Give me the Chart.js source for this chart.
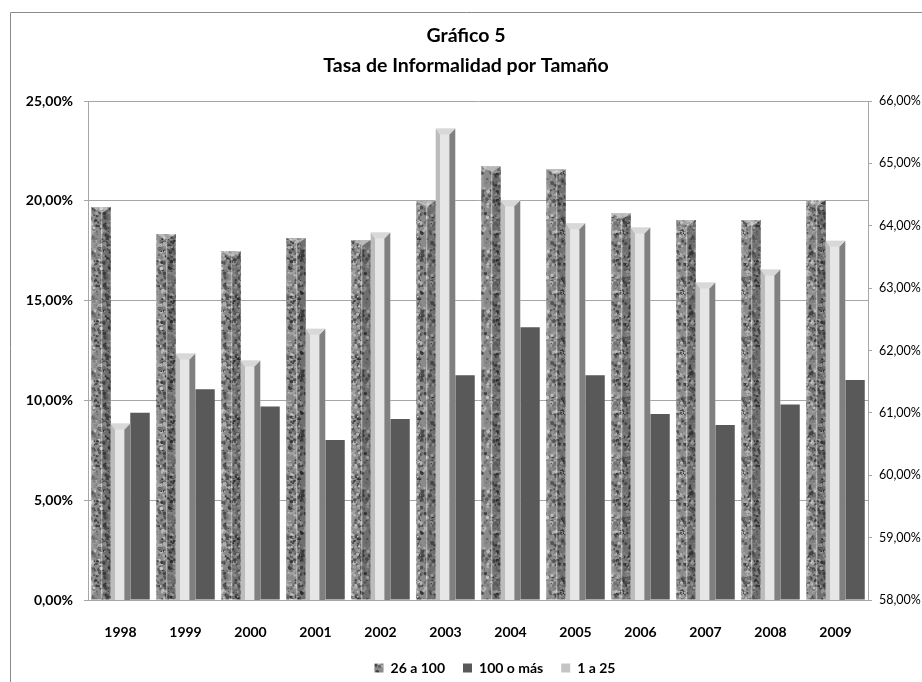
<!DOCTYPE html>
<html lang="es">
<head>
<meta charset="utf-8">
<title>Gráfico 5 - Tasa de Informalidad por Tamaño</title>
<script src="https://cdn.jsdelivr.net/npm/chart.js@4/dist/chart.umd.min.js"></script>
<style>
  html, body { margin: 0; padding: 0; background: #ffffff; }
  #wrap { position: relative; width: 922px; height: 682px; }
</style>
</head>
<body>
<div id="wrap"><canvas id="chart" width="922" height="682"></canvas></div>
<script>
// Años de la serie
const years = ['1998', '1999', '2000', '2001', '2002', '2003', '2004', '2005', '2006', '2007', '2008', '2009'];

// Tasa de informalidad (%) por tamaño de empresa
const firms26to100 = [19.69, 18.34, 17.47, 18.14, 18.04, 19.99, 21.73, 21.58, 19.37, 19.04, 19.04, 20.04];
const firms100plus = [9.38, 10.56, 9.69, 8.02, 9.07, 11.26, 13.66, 11.26, 9.32, 8.77, 9.79, 11.02];
const firms1to25   = [60.83, 61.95, 61.84, 62.35, 63.89, 65.56, 64.41, 64.04, 63.97, 63.09, 63.30, 63.76];

// Nombres de las series y orden de la leyenda
const seriesNames = ['26 a 100', '1 a 25', '100 o más'];
const legendOrder = ['26 a 100', '100 o más', '1 a 25'];

const FONT = 'Lato, "Open Sans", "Noto Sans", sans-serif';

// Textura granito para la serie "26 a 100"
function granitePattern() {
  const size = 60;
  const raw = document.createElement('canvas');
  raw.width = size; raw.height = size;
  const g = raw.getContext('2d');
  g.fillStyle = '#8b8b8b';
  g.fillRect(0, 0, size, size);
  let s = 24680;
  const next = () => (s = (s * 16807) % 2147483647) / 2147483647;
  for (let i = 0; i < 650; i++) {
    const v = Math.floor(50 + next() * 150);
    g.fillStyle = 'rgb(' + v + ',' + v + ',' + v + ')';
    g.beginPath();
    g.arc(next() * size, next() * size, 0.6 + next() * 1.4, 0, Math.PI * 2);
    g.fill();
  }
  const c = document.createElement('canvas');
  c.width = size; c.height = size;
  const g2 = c.getContext('2d');
  g2.filter = 'blur(0.4px)';
  g2.drawImage(raw, 0, 0);
  return g2.createPattern(c, 'repeat');
}
const granite = granitePattern();

// Relieve de las barras (caras laterales y biseles)
const bevelPlugin = {
  id: 'bevel',
  afterDatasetsDraw(chart) {
    const ctx = chart.ctx;
    const area = chart.chartArea;
    ctx.save();
    ctx.beginPath();
    ctx.rect(area.left, area.top - 2, area.right - area.left, area.bottom - area.top + 2);
    ctx.clip();
    chart.data.datasets.forEach((ds, di) => {
      const meta = chart.getDatasetMeta(di);
      if (meta.hidden) return;
      meta.data.forEach(bar => {
        const p = bar.getProps(['x', 'y', 'base', 'width'], true);
        const L = p.x - p.width / 2, R = p.x + p.width / 2, T = p.y, B = p.base, w = p.width;
        const h = Math.min(6, (B - T) / 2);
        const poly = (pts, fill) => {
          ctx.beginPath();
          ctx.moveTo(pts[0][0], pts[0][1]);
          for (let i = 1; i < pts.length; i++) ctx.lineTo(pts[i][0], pts[i][1]);
          ctx.closePath();
          ctx.fillStyle = fill;
          ctx.fill();
        };
        if (ds.label === '1 a 25') {
          const lw = w * 0.22, rw = w * 0.3;
          poly([[L, T], [L + lw, T + h], [L + lw, B - h], [L, B]], '#bcbcbc');
          poly([[R, T], [R - rw, T + h], [R - rw, B - h], [R, B]], '#808080');
          poly([[L, T], [R, T], [R - rw, T + h], [L + lw, T + h]], '#d8d8d8');
          poly([[L, B], [R, B], [R - rw, B - h], [L + lw, B - h]], '#909090');
        } else if (ds.label === '26 a 100') {
          const mid = L + w * 0.55;
          poly([[mid, T + h], [R, T], [R, B], [mid, B]], 'rgba(0,0,0,0.2)');
          poly([[L, T], [L + w * 0.12, T + h], [L + w * 0.12, B], [L, B]], 'rgba(255,255,255,0.12)');
          ctx.fillStyle = 'rgba(255,255,255,0.35)';
          ctx.fillRect(mid - 1, T + h, 1.5, B - T - h);
          poly([[L, T], [R, T], [mid, T + h]], 'rgba(225,225,225,0.55)');
        }
      });
    });
    ctx.restore();
  }
};

// Marco exterior del gráfico y desplazamiento de la leyenda
const framePlugin = {
  id: 'frame',
  afterLayout(chart) {
    if (chart.legend) {
      chart.legend.left += 29;
      chart.legend.right += 29;
    }
  },
  beforeDraw(chart) {
    const ctx = chart.ctx;
    ctx.save();
    ctx.strokeStyle = '#8a8a8a';
    ctx.lineWidth = 1;
    ctx.beginPath();
    ctx.moveTo(10.5, 700);
    ctx.lineTo(10.5, 12.5);
    ctx.lineTo(940, 12.5);
    ctx.stroke();
    ctx.restore();
  }
};

const pct = v => v.toFixed(2).replace('.', ',') + '%';

const styles = {
  '26 a 100':  { backgroundColor: granite, yAxisID: 'y',  data: firms26to100 },
  '1 a 25':    { backgroundColor: '#e6e6e6', yAxisID: 'y1', data: firms1to25 },
  '100 o más': { backgroundColor: '#595959', yAxisID: 'y',  data: firms100plus }
};

new Chart(document.getElementById('chart'), {
  type: 'bar',
  data: {
    labels: years,
    datasets: seriesNames.map(name => ({
      label: name,
      data: styles[name].data,
      yAxisID: styles[name].yAxisID,
      backgroundColor: styles[name].backgroundColor,
      borderWidth: 0,
      categoryPercentage: 0.9,
      barPercentage: 1.0
    }))
  },
  options: {
    responsive: false,
    animation: false,
    layout: { padding: { left: 10, right: 0, top: 12, bottom: -3 } },
    plugins: {
      title: {
        display: true,
        text: ['Gráfico 5', 'Tasa de Informalidad por Tamaño'],
        color: '#000000',
        font: { family: FONT, size: 19.5, weight: 'bold', lineHeight: '30px' },
        padding: { top: 9, bottom: 20 }
      },
      legend: {
        position: 'bottom',
        labels: {
          color: '#000000',
          font: { family: FONT, size: 14, weight: 'bold' },
          boxWidth: 9,
          boxHeight: 9,
          padding: 18,
          sort: (a, b) => legendOrder.indexOf(a.text) - legendOrder.indexOf(b.text),
          generateLabels(chart) {
            const items = Chart.defaults.plugins.legend.labels.generateLabels(chart);
            items.forEach(it => {
              if (it.text === '1 a 25') it.fillStyle = '#c4c4c4';
              it.strokeStyle = 'rgba(0,0,0,0)';
              it.lineWidth = 0;
            });
            return items;
          }
        }
      },
      tooltip: { enabled: false }
    },
    scales: {
      x: {
        grid: { display: false, drawTicks: false },
        border: { display: true, color: '#a6a6a6' },
        ticks: { color: '#000000', font: { family: FONT, size: 14, weight: 'bold' }, padding: 24 },
        afterFit: s => { s.height = 43; }
      },
      y: {
        position: 'left',
        min: 0,
        max: 25,
        grid: { color: '#a6a6a6', drawTicks: true, tickLength: 4, tickColor: '#a6a6a6' },
        border: { display: true, color: '#a6a6a6' },
        ticks: { stepSize: 5, color: '#000000', padding: 11, font: { family: FONT, size: 14, weight: 'bold' }, callback: v => pct(v) },
        afterFit: s => { s.width = 78; }
      },
      y1: {
        position: 'right',
        min: 58,
        max: 66,
        grid: { drawOnChartArea: false, drawTicks: true, tickLength: 4, tickColor: '#a6a6a6' },
        border: { display: true, color: '#a6a6a6' },
        ticks: { stepSize: 1, color: '#000000', padding: 7, font: { family: FONT, size: 12.5 }, callback: v => pct(v) },
        afterFit: s => { s.width = 54; }
      }
    }
  },
  plugins: [framePlugin, bevelPlugin]
});
</script>
</body>
</html>
